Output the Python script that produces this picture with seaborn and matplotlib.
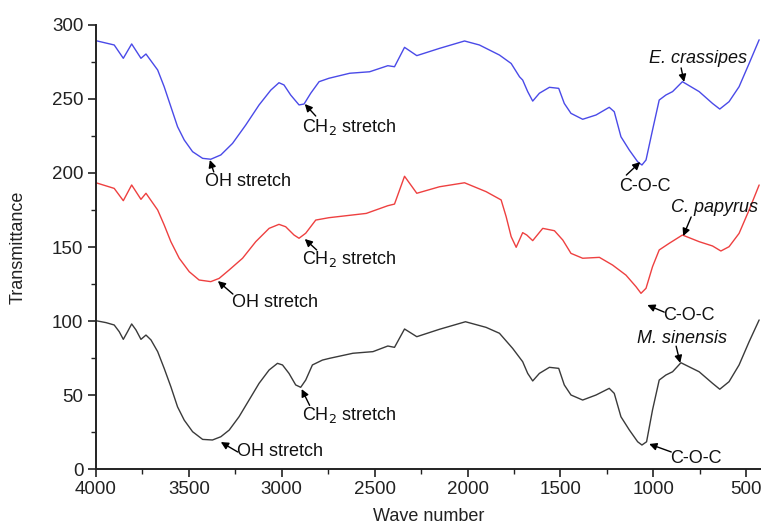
import matplotlib
matplotlib.use("Agg")
import matplotlib.pyplot as plt
import seaborn as sns
import pandas as pd
from matplotlib.ticker import MultipleLocator

# ---- data ----
black_x = [4000, 3946, 3902, 3875, 3853, 3830, 3808, 3785, 3758, 3731, 3704, 3668, 3633, 3597, 3561,
           3525, 3480, 3426, 3373, 3328, 3283, 3230, 3176, 3122, 3068, 3023, 2996, 2961, 2925, 2898,
           2871, 2835, 2781, 2742, 2617, 2509, 2429, 2393, 2339, 2273, 2151, 2011, 1900, 1828, 1757,
           1703, 1676, 1649, 1613, 1559, 1509, 1479, 1443, 1380, 1308, 1237, 1210, 1174, 1129, 1084,
           1061, 1036, 1004, 968, 932, 896, 851, 753, 681, 642, 592, 538, 484, 430]
black_y = [100.2, 98.9, 97.3, 92.8, 87.6, 92.8, 98, 94, 87.6, 90.5, 87.2, 79.3, 68, 55.6, 42,
           33, 25.2, 20, 19.6, 21.8, 26.3, 35.3, 46.6, 57.9, 66.9, 71.4, 70.3, 64.6, 56.8, 55.2,
           60.1, 70.3, 73.6, 74.8, 78.2, 79.3, 83.1, 82.2, 94.6, 89.4, 94.4, 99.5, 95.7, 91.7, 81.5,
           72.5, 64.6, 59.5, 64.6, 68.7, 68, 56.8, 50, 46.6, 50, 54.5, 51.1, 35.3, 26.4, 18.4,
           16.2, 18.4, 39.9, 60.1, 63.5, 65.7, 71.8, 65.7, 57.9, 53.9, 59, 70.3, 86, 100.7]

blue_x = [4000, 3902, 3853, 3808, 3758, 3731, 3668, 3633, 3597, 3561, 3525, 3480, 3426, 3382, 3328,
          3265, 3194, 3122, 3059, 3015, 2988, 2952, 2907, 2880, 2844, 2799, 2746, 2634, 2527, 2429,
          2393, 2339, 2273, 2151, 2016, 1936, 1828, 1765, 1720, 1703, 1676, 1649, 1613, 1559, 1509,
          1479, 1443, 1380, 1308, 1237, 1210, 1174, 1129, 1084, 1061, 1039, 1004, 968, 932, 896,
          843, 753, 681, 642, 592, 538, 484, 430]
blue_y = [289.4, 286.5, 277.5, 287.2, 277.5, 280.4, 269.6, 258.3, 244.8, 231.3, 222.3, 214.4, 209.9, 209.3, 212.2,
          220, 232.4, 246, 256, 261, 259.5, 252.7, 246, 246.6, 253.9, 261.7, 264, 267.4, 268.4, 272.5,
          271.8, 284.9, 279.3, 284.2, 289.2, 286.5, 279.7, 274, 265, 262.8, 255, 248.6, 253.9, 257.9, 257.2,
          247, 240.3, 236.3, 239.2, 244.4, 241.4, 224.5, 215.5, 207.6, 205.4, 208.8, 229, 249.3, 252.7, 255,
          261.7, 255, 247, 243.2, 248.2, 258.3, 274, 290]

red_x = [4000, 3902, 3853, 3808, 3758, 3731, 3668, 3633, 3597, 3552, 3498, 3445, 3382, 3337, 3283,
         3211, 3140, 3068, 3015, 2979, 2934, 2907, 2871, 2817, 2746, 2545, 2429, 2393, 2339, 2273,
         2151, 2016, 1900, 1819, 1792, 1765, 1738, 1703, 1681, 1649, 1595, 1532, 1487, 1443, 1380,
         1290, 1219, 1147, 1093, 1066, 1039, 1004, 968, 914, 843, 753, 681, 636, 592, 538, 484, 430]
red_y = [193.4, 189.6, 181.3, 191.9, 182.2, 186.3, 175, 164.9, 153.6, 142.4, 133.3, 127.7, 126.6, 128.8, 134.5,
         142.4, 153.6, 162.6, 165.3, 163.7, 158.1, 155.9, 159.3, 168.2, 169.8, 172.7, 177.9, 179, 197.8, 186.3,
         190.7, 193.4, 187.4, 181.8, 170.5, 157, 149.8, 159.7, 158.1, 154.3, 162.6, 161, 154.7, 145.7, 142.4,
         143, 137.8, 131, 123.2, 118.7, 122.1, 136.7, 148, 152.5, 158.1, 153.6, 150.7, 147.3, 150.2, 159.2, 175, 191.9]

x_ticks = [4000, 3500, 3000, 2500, 2000, 1500, 1000, 500]
y_ticks = [0, 50, 100, 150, 200, 250, 300]

sns.set_style("ticks")
plt.rcParams['font.family'] = ['Liberation Sans', 'DejaVu Sans']

fig = plt.figure(figsize=(7.61, 5.26), dpi=100)
ax = fig.add_axes([96 / 761, 1 - 469 / 526, 665 / 761, 444 / 526])

for xs, ys, col in [(black_x, black_y, '#3a3a3a'), (red_x, red_y, '#ee4040'), (blue_x, blue_y, '#4a4ae8')]:
    df = pd.DataFrame({'x': xs, 'y': ys})
    sns.lineplot(data=df, x='x', y='y', color=col, lw=1.0, sort=False, estimator=None, ax=ax,
                 solid_joinstyle='round')

ax.set_xlim(4000, 420)
ax.set_ylim(0, 300)
ax.set_xticks(x_ticks)
ax.set_yticks(y_ticks)
ax.xaxis.set_minor_locator(MultipleLocator(250))
ax.yaxis.set_minor_locator(MultipleLocator(25))
ax.tick_params(which='major', direction='out', length=6, width=1.2, labelsize=13.5, colors='#222222', pad=3)
ax.tick_params(which='minor', direction='out', length=3.5, width=1.0, colors='#222222')
for s in ['top', 'right']:
    ax.spines[s].set_visible(False)
for s in ['left', 'bottom']:
    ax.spines[s].set_linewidth(1.4)
    ax.spines[s].set_color('#222222')

ax.set_xlabel('Wave number', fontsize=13, color='#222222')
ax.set_ylabel('Transmittance', fontsize=13, color='#222222')
ax.xaxis.set_label_coords(0.5, -0.088)
ax.yaxis.set_label_coords(-0.105, 0.5)

arrow = dict(arrowstyle='-|>', color='black', lw=1.0, mutation_scale=11, shrinkA=0, shrinkB=0)
fs = 13

def label(text, tx, ty, head, tail, ha='center', style='normal'):
    ax.text(tx, ty, text, ha=ha, va='center', fontsize=fs, fontstyle=style, color='#111111')
    ax.annotate('', xy=head, xytext=tail, arrowprops=arrow)

# blue
label('CH$_2$ stretch', 2893, 231, (2876, 246.6), (2817, 238.5), ha='left')
label('OH stretch', 3183, 194, (3387, 208.8), (3366, 200.7))
label('C-O-C', 1043, 191.2, (1070, 207.4), (1145, 198.6))
label('E. crassipes', 758, 277.7, (834, 261.5), (850, 271), style='italic')
# red
label('CH$_2$ stretch', 2893, 141.9, (2876, 155.4), (2812, 148), ha='left')
label('OH stretch', 3038, 112.8, (3344, 127), (3263, 118.2))
label('C-O-C', 807, 104, (1032, 110.8), (941, 106))
label('C. papyrus', 672, 176.4, (839, 157.4), (796, 170.3), style='italic')
# black
label('CH$_2$ stretch', 2893, 36.5, (2893, 54), (2850, 43), ha='left')
label('OH stretch', 3011, 11.5, (3328, 18.2), (3237, 11.5))
label('C-O-C', 769, 7.4, (1022, 16.9), (903, 11.5))
label('M. sinensis', 844, 88.5, (855, 71.6), (877, 83), style='italic')

fig.savefig('out.png', dpi=100)
